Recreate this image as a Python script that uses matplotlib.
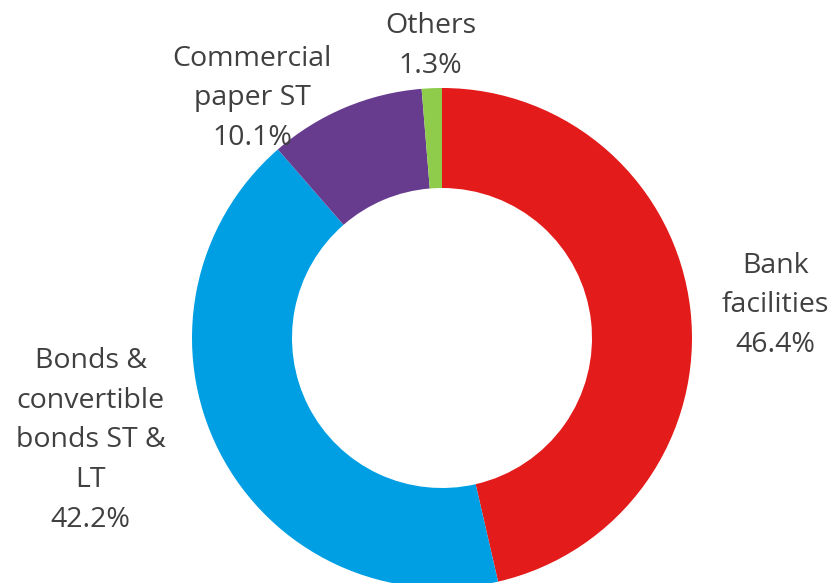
import matplotlib
matplotlib.use("Agg")
import matplotlib.pyplot as plt

# Debt structure breakdown
categories = ["Bank\nfacilities", "Bonds &\nconvertible\nbonds ST &\nLT", "Commercial\npaper ST", "Others"]
shares = [46.4, 42.2, 10.1, 1.3]
colors = ["#E31B1A", "#009FE3", "#673C8F", "#8FCC4C"]

# Label anchor points (data units, donut radius = 1)
label_pos = [(1.335, 0.13), (-1.405, -0.41), (-0.76, 0.958), (-0.045, 1.168)]

plt.rcParams["font.family"] = ["Open Sans", "DejaVu Sans"]

fig = plt.figure(figsize=(8.31, 5.83), dpi=100)
ax = fig.add_axes([0, 0, 1, 1])
ax.pie(shares, colors=colors, startangle=90, counterclock=False,
       radius=1.0, wedgeprops=dict(width=0.4, linewidth=0))

for name, val, (x, y) in zip(categories, shares, label_pos):
    ax.text(x, y, f"{name}\n{val:.1f}%", ha="center", va="center",
            fontsize=20.5, color="#404040", linespacing=1.55)

ax.set_xlim(-442 / 250, 389 / 250)
ax.set_ylim(-245 / 250, 338 / 250)
ax.set_aspect("equal")
ax.axis("off")
fig.savefig("out.png", dpi=100)
